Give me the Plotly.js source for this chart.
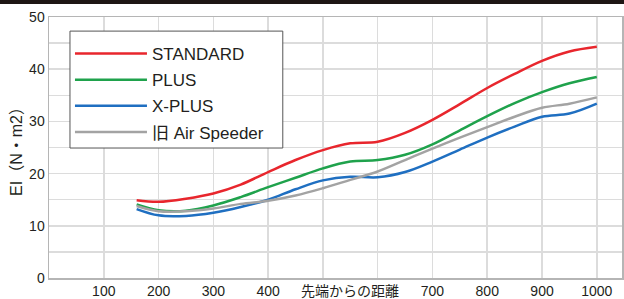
<!DOCTYPE html>
<html>
<head>
<meta charset="utf-8">
<script src="https://cdn.plot.ly/plotly-3.0.1.min.js"></script>
<style>html,body{margin:0;padding:0;background:#fff;}#chart{width:624px;height:299px;}</style>
</head>
<body>
<div id="chart"></div>
<script>
// Distance from tip (x) values
const distance = [160, 200, 250, 300, 350, 400, 450, 500, 550, 600, 650, 700, 750, 800, 850, 900, 950, 1000];
// EI values per model
const standard   = [14.9, 14.6, 15.2, 16.2, 17.9, 20.3, 22.6, 24.5, 25.8, 26.1, 27.8, 30.3, 33.3, 36.4, 39.1, 41.6, 43.4, 44.3];
const plus       = [14.1, 13.0, 12.9, 13.9, 15.5, 17.4, 19.2, 21.0, 22.3, 22.6, 23.6, 25.6, 28.3, 31.0, 33.5, 35.6, 37.3, 38.5];
const xplus      = [13.2, 12.0, 11.9, 12.5, 13.6, 15.0, 17.0, 18.7, 19.4, 19.3, 20.3, 22.3, 24.6, 26.9, 29.0, 30.9, 31.5, 33.4];
const airSpeeder = [13.8, 12.8, 12.8, 13.3, 14.2, 14.8, 15.8, 17.2, 18.8, 20.4, 22.6, 24.8, 26.9, 28.9, 30.9, 32.6, 33.4, 34.6];

const seriesNames = ['STANDARD', 'PLUS', 'X-PLUS', '旧 Air Speeder'];
const seriesValues = [standard, plus, xplus, airSpeeder];
const seriesColors = ['#e8262d', '#1fa24c', '#1f6fc1', '#a3a3a3'];

const xTickVals = [100, 200, 300, 400, 500, 600, 700, 800, 900, 1000];
const xTickText = ['100', '200', '300', '400', '', '', '700', '800', '900', '1000'];
const yTickVals = [0, 5, 10, 15, 20, 25, 30, 35, 40, 45, 50];
const yTickText = ['0', '', '10', '', '20', '', '30', '', '40', '', '50'];
const xTitle = '先端からの距離';
const yTitle = 'EI（N・m2）';

const FONT = 'Liberation Sans, Arial, Noto Sans CJK JP, sans-serif';
const TXT = '#231f20';

const traces = seriesNames.map((n, i) => ({
  x: distance,
  y: seriesValues[i],
  name: n,
  legendgroup: 'g' + i,
  type: 'scatter',
  mode: 'lines',
  line: {color: seriesColors[i], width: 2.5, shape: 'spline', smoothing: 1},
  hoverinfo: 'skip'
}));

const layout = {
  width: 624, height: 299,
  margin: {l: 49, r: 2, t: 17, b: 21, pad: 0},
  paper_bgcolor: '#fff', plot_bgcolor: '#fff',
  font: {family: FONT, color: TXT, size: 14},
  showlegend: true,
  legend: {
    x: 0.0366, y: 0.927, xanchor: 'left', yanchor: 'top',
    bgcolor: 'rgba(0,0,0,0)', borderwidth: 0,
    font: {family: FONT, size: 17, color: TXT},
    tracegroupgap: 1,
    itemwidth: 72
  },
  xaxis: {
    range: [0, 1046], tickvals: xTickVals, ticktext: xTickText,
    showgrid: true, gridcolor: '#dcdcdc', gridwidth: 1.5,
    showline: true, linecolor: '#b5b5b5', linewidth: 1.5, mirror: true,
    ticks: '', zeroline: false, fixedrange: true,
    tickfont: {size: 14, color: TXT, family: FONT}
  },
  yaxis: {
    range: [0, 50], tickvals: yTickVals, ticktext: yTickText,
    showgrid: true, gridcolor: '#dcdcdc', gridwidth: 1.5,
    showline: true, linecolor: '#b5b5b5', linewidth: 1.5, mirror: true,
    ticks: '', zeroline: false, fixedrange: true,
    tickfont: {size: 14, color: TXT, family: FONT},
    title: {text: yTitle, font: {size: 16, color: TXT, family: FONT}, standoff: 2}
  },
  annotations: [{
    text: xTitle, xref: 'x', yref: 'paper', x: 550, y: -0.05,
    xanchor: 'center', yanchor: 'middle', showarrow: false,
    font: {size: 14, color: TXT, family: FONT}
  }],
  shapes: [
    {
      type: 'rect', xref: 'paper', yref: 'paper',
      x0: -0.2, x1: 1.2, y0: 1.05, y1: 1.2,
      fillcolor: '#1e1614', line: {width: 0}, layer: 'above'
    },
    {
      type: 'rect', xref: 'paper', yref: 'paper',
      x0: 0.0366, x1: 0.408, y0: 0.498, y1: 0.946,
      fillcolor: '#fff', line: {color: '#555', width: 1}, layer: 'above'
    }
  ]
};

Plotly.newPlot('chart', traces, layout, {staticPlot: true, displayModeBar: false});
</script>
</body>
</html>
